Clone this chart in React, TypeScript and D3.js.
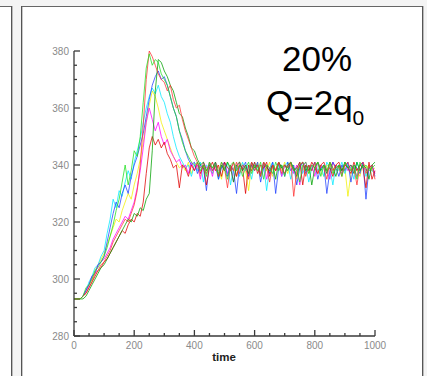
import React from "react";
import * as d3 from "d3";

const timeStep = 10;
const yTicks = [280, 300, 320, 340, 360, 380];
const xTicks = [0, 200, 400, 600, 800, 1000];

const cyanSeries = [293,293,293,294,296,299,301,304,305,308,
 310,316,321,328,325,331,329,334,338,335,
 341,345,349,355,360,364,367,365,368,364,
 362,358,355,350,346,343,341,339,340,336,
 340,338,341,334,340,339,337,341,335,340,
 338,341,333,339,340,336,341,338,340,335,
 341,339,337,340,331,339,341,338,340,336,
 340,341,335,339,338,341,337,340,334,339,
 341,338,340,336,341,339,333,340,338,341,
 337,340,339,335,341,338,340,336,339,338,337];

const blueSeries = [293,293,293,294,296,298,301,302,305,306,
 308,313,318,323,327,325,330,333,330,336,
 340,343,347,351,357,363,368,371,373,370,
 371,368,364,360,357,352,349,345,342,340,
 341,337,340,339,331,341,338,340,335,339,
 341,336,340,338,330,340,339,341,336,340,
 338,341,334,339,340,337,341,330,339,340,
 336,341,338,340,333,339,341,337,340,338,
 341,335,339,340,330,338,341,339,336,340,
 338,341,334,340,339,337,341,328,339,340,336];

const greenSeries = [293,293,293,294,297,298,300,303,304,306,
 308,311,315,319,324,328,334,340,333,338,
 345,343,350,362,374,379,375,377,376,372,
 370,368,364,360,357,352,348,345,343,341,
 340,341,338,340,336,341,339,340,337,341,
 339,335,340,341,338,340,336,339,341,337,
 340,338,341,335,340,339,337,341,338,340,
 336,340,341,338,339,334,340,341,337,340,
 339,341,336,340,338,341,337,339,340,336,
 341,339,338,340,335,341,339,340,338,339,340];

const darkGreenSeries = [293,293,293,293,294,296,298,300,302,304,
 305,307,309,311,313,315,317,319,321,320,
 323,322,325,324,328,330,345,366,377,376,
 373,371,368,366,362,358,357,353,350,346,
 345,342,340,341,338,340,339,341,336,340,
 338,341,339,334,340,341,338,340,337,341,
 339,340,336,341,339,338,340,335,341,339,
 340,338,341,339,336,340,341,338,340,333,
 339,341,338,340,337,341,339,336,340,338,
 341,339,340,337,341,338,340,339,335,340,341];

const redSeries = [293,293,293,294,295,297,299,302,303,305,
 306,308,310,313,315,317,319,321,320,323,
 326,331,340,354,370,380,378,375,372,370,
 369,366,368,363,360,361,356,352,349,346,
 343,341,339,340,337,341,338,340,336,341,
 339,332,340,338,341,337,340,339,335,341,
 338,340,336,341,339,334,340,338,341,337,
 340,339,341,329,338,340,341,336,340,338,
 341,337,340,339,335,341,338,340,339,336,
 340,341,338,339,333,340,341,337,339,340,335];

const magentaSeries = [293,293,293,294,296,298,301,302,305,306,
 307,309,311,314,316,318,320,322,321,324,
 327,332,338,346,355,360,356,352,355,350,
 347,349,345,343,341,342,339,340,337,341,
 338,340,335,341,339,340,336,341,338,339,
 341,337,340,334,339,341,338,340,336,341,
 339,340,337,341,335,339,340,338,341,336,
 340,339,341,337,340,333,339,341,338,340,
 336,341,339,340,338,335,341,339,340,337,
 341,338,340,339,336,340,341,338,339,340,337];

const yellowSeries = [293,293,293,294,296,298,300,303,305,307,
 309,312,315,318,321,320,324,327,330,328,
 333,337,342,348,355,361,366,364,360,355,
 352,349,346,343,341,339,340,338,341,337,
 340,339,336,341,338,340,337,341,339,335,
 340,341,338,339,336,341,340,338,331,340,
 339,341,337,340,338,341,336,339,340,338,
 341,337,340,339,335,341,338,340,337,339,
 340,341,338,336,340,339,341,338,340,337,
 339,329,337,340,338,336,341,339,340,338,339];

const darkRedSeries = [293,293,293,294,295,297,299,301,303,304,
 306,307,309,311,313,315,317,316,319,321,
 320,323,322,327,337,346,350,347,349,346,
 348,344,342,339,340,332,340,339,336,340,
 338,341,337,340,333,339,341,338,340,336,
 341,339,338,341,336,340,339,330,340,338,
 341,337,340,339,341,336,340,338,341,339,
 337,340,341,338,339,341,333,340,338,341,
 339,337,340,341,338,339,336,340,341,338,
 340,339,337,341,338,340,339,332,341,335,338];

const seriesNames = ["yellow", "cyan", "magenta", "blue", "darkred", "darkgreen", "red", "green"];
const seriesValues = [yellowSeries, cyanSeries, magentaSeries, blueSeries, darkRedSeries, darkGreenSeries, redSeries, greenSeries];
const seriesColors = ["#f0f000", "#00e8ff", "#ff00ff", "#2040ff", "#e00000", "#00a000", "#ff3030", "#20e020"];

const W = 427, H = 376;

export default function App() {
  const x = d3.scaleLinear().domain([0, 1000]).range([74, 375]);
  const y = d3.scaleLinear().domain([280, 380]).range([336, 51]);
  const line = d3.line<number>().x((_, i) => x(i * timeStep)).y((d) => y(d));
  const yMinor = d3.range(280, 381, 5);
  const xMinor = d3.range(0, 1001, 50);
  const axisColor = "#3a3a3a";
  const labelColor = "#8a8a8a";
  return (
    <div style={{ position: "fixed", left: 0, top: 0 }}>
      <svg width={W} height={H} style={{ display: "block" }}>
        <rect x={0} y={0} width={W} height={H} fill="#f4f4f4" />
        {/* left panel */}
        <rect x={0} y={6} width={11.5} height={H} fill="#ffffff" />
        <line x1={0} x2={11.5} y1={6.5} y2={6.5} stroke="#666" />
        <line x1={11.5} x2={11.5} y1={6} y2={H} stroke="#555" />
        <line x1={12.5} x2={12.5} y1={6} y2={H} stroke="#bbb" />
        {/* main panel */}
        <rect x={21.5} y={6.5} width={401} height={H} fill="#ffffff" />
        <line x1={21.5} x2={422.5} y1={6.5} y2={6.5} stroke="#666" />
        <line x1={21.5} x2={21.5} y1={6} y2={H} stroke="#555" />
        <line x1={22.5} x2={22.5} y1={7} y2={H} stroke="#c8c8c8" />
        <line x1={422.5} x2={422.5} y1={6} y2={H} stroke="#555" />
        <line x1={423.5} x2={423.5} y1={6} y2={H} stroke="#bbb" />

        {/* data */}
        <g fill="none" strokeWidth={0.9} strokeLinejoin="round">
          {seriesValues.map((vals, k) => (
            <path key={seriesNames[k]} d={line(vals) || ""} stroke={seriesColors[k]} strokeOpacity={0.85} />
          ))}
        </g>

        {/* axes */}
        <g stroke={axisColor} strokeWidth={1.3}>
          <line x1={x(0)} x2={x(0)} y1={y(380)} y2={y(280)} />
          <line x1={x(0)} x2={x(1000)} y1={y(280)} y2={y(280)} />
          {yMinor.map((v) => (
            <line key={"ym" + v} x1={x(0)} x2={x(0) + (v % 20 === 0 ? 6 : 3)} y1={y(v)} y2={y(v)} />
          ))}
          {xMinor.map((v) => (
            <line key={"xm" + v} x1={x(v)} x2={x(v)} y1={y(280)} y2={y(280) - (v % 200 === 0 ? 6 : 3)} />
          ))}
        </g>
        <g fill={labelColor} fontFamily="Liberation Sans, Arial, sans-serif" fontSize={10}>
          {yTicks.map((v) => (
            <text key={"yl" + v} x={x(0) - 5} y={y(v) + 3.5} textAnchor="end">{v}</text>
          ))}
          {xTicks.map((v) => (
            <text key={"xl" + v} x={x(v)} y={y(280) + 13} textAnchor="middle">{v}</text>
          ))}
        </g>
        <text x={224} y={361} textAnchor="middle" fontFamily="Liberation Sans, Arial, sans-serif" fontWeight="bold" fontSize={11.5} fill="#222">time</text>

        <g fontFamily="Liberation Sans, Arial, sans-serif" fill="#000">
          <text x={317} y={71} textAnchor="middle" fontSize={35}>20%</text>
          <text x={266} y={115} fontSize={35}>
            Q=2q<tspan fontSize={21} dy={10}>0</tspan>
          </text>
        </g>
      </svg>
    </div>
  );
}
